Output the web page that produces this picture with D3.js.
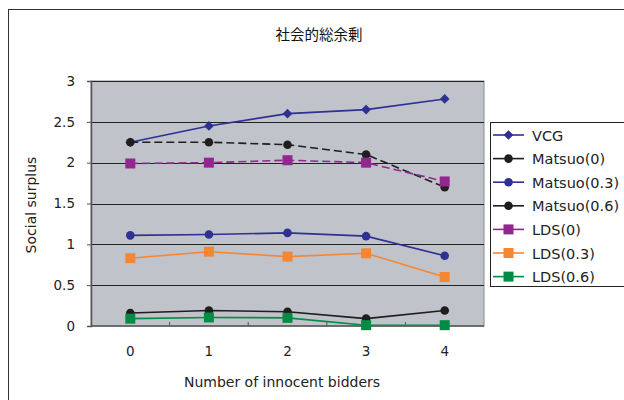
<!DOCTYPE html>
<html>
<head>
<meta charset="utf-8">
<script src="https://cdn.jsdelivr.net/npm/d3@7"></script>
<style>
  html, body { margin: 0; padding: 0; background: #fff; }
  svg { display: block; }
</style>
</head>
<body>
<svg id="chart" width="624" height="400"></svg>
<script>
// Categories: number of innocent bidders
const categories = [0, 1, 2, 3, 4];
const yTicks = [0, 0.5, 1, 1.5, 2, 2.5, 3];

// Social surplus per mechanism
const vcg        = [2.25, 2.45, 2.60, 2.65, 2.78];
const matsuo0    = [2.25, 2.25, 2.22, 2.10, 1.70];
const matsuo03   = [1.11, 1.12, 1.14, 1.10, 0.86];
const matsuo06   = [0.16, 0.19, 0.175, 0.09, 0.19];
const lds0       = [1.99, 2.00, 2.03, 2.00, 1.77];
const lds03      = [0.83, 0.91, 0.85, 0.89, 0.60];
const lds06      = [0.09, 0.105, 0.10, 0.01, 0.01];

const seriesNames = ["VCG", "Matsuo(0)", "Matsuo(0.3)", "Matsuo(0.6)", "LDS(0)", "LDS(0.3)", "LDS(0.6)"];
const seriesValues = [vcg, matsuo0, matsuo03, matsuo06, lds0, lds03, lds06];
const seriesStyle = [
  { color: "#2e3192", marker: "diamond", dash: null },
  { color: "#1f1d1e", marker: "circle",  dash: "8,4" },
  { color: "#2e3192", marker: "circle",  dash: null },
  { color: "#1f1d1e", marker: "circle",  dash: null },
  { color: "#92278f", marker: "square",  dash: "8,4" },
  { color: "#f58634", marker: "square",  dash: null },
  { color: "#008c45", marker: "square",  dash: null }
];

const latin = "'DejaVu Sans', Verdana, sans-serif";
const svg = d3.select("#chart");

// outer chart frame
svg.append("rect")
  .attr("x", 8.5).attr("y", 9.5)
  .attr("width", 700).attr("height", 500)
  .attr("fill", "#fff").attr("stroke", "#333").attr("stroke-width", 1);

// title
svg.append("text")
  .attr("x", 319).attr("y", 39.5)
  .attr("text-anchor", "middle")
  .attr("font-family", "'Noto Sans CJK JP', sans-serif")
  .attr("font-size", 14.5)
  .attr("fill", "#111")
  .text("社会的総余剰");

const plot = { left: 91, right: 484, top: 81, bottom: 326 };

const x = d3.scalePoint()
  .domain(categories)
  .range([plot.left, plot.right])
  .padding(0.5);

const y = d3.scaleLinear()
  .domain([0, 3])
  .range([plot.bottom, plot.top]);

// plot background
svg.append("rect")
  .attr("x", plot.left).attr("y", plot.top)
  .attr("width", plot.right - plot.left)
  .attr("height", plot.bottom - plot.top)
  .attr("fill", "#c0c3ca")
  .attr("stroke", "#8a8a8a").attr("stroke-width", 1);

// horizontal gridlines
svg.append("g")
  .selectAll("line")
  .data(yTicks.filter(d => d > 0))
  .join("line")
  .attr("x1", plot.left).attr("x2", plot.right)
  .attr("y1", d => Math.round(y(d)) + 0.5)
  .attr("y2", d => Math.round(y(d)) + 0.5)
  .attr("stroke", "#222").attr("stroke-width", 1);

// y axis
const yAxis = d3.axisLeft(y)
  .tickValues(yTicks)
  .tickSize(4)
  .tickPadding(12)
  .tickFormat(d => String(d));
const gy = svg.append("g")
  .attr("transform", `translate(${plot.left},0)`)
  .call(yAxis);
gy.select(".domain").attr("stroke", "#555").attr("stroke-width", 1.5);
gy.selectAll(".tick line").attr("stroke", "#555");
gy.selectAll("text")
  .attr("font-family", latin).attr("font-size", 13.5).attr("fill", "#222");

// x axis (labels centred on categories, ticks between them)
const step = x.step();
const gx = svg.append("g")
  .attr("transform", `translate(0,${plot.bottom})`);
gx.append("line")
  .attr("x1", plot.left).attr("x2", plot.right)
  .attr("y1", 0).attr("y2", 0)
  .attr("stroke", "#555").attr("stroke-width", 1.5);
gx.selectAll(".sep")
  .data(categories.slice(1))
  .join("line")
  .attr("class", "sep")
  .attr("x1", d => x(d) - step / 2).attr("x2", d => x(d) - step / 2)
  .attr("y1", 0).attr("y2", -4)
  .attr("stroke", "#555");
gx.selectAll("text")
  .data(categories)
  .join("text")
  .attr("x", d => x(d))
  .attr("y", 30)
  .attr("text-anchor", "middle")
  .attr("font-family", latin).attr("font-size", 13.5).attr("fill", "#222")
  .text(d => d);

// axis titles
svg.append("text")
  .attr("x", 282).attr("y", 387)
  .attr("text-anchor", "middle")
  .attr("font-family", latin).attr("font-size", 14).attr("fill", "#222")
  .text("Number of innocent bidders");
svg.append("text")
  .attr("transform", "translate(36,205) rotate(-90)")
  .attr("text-anchor", "middle")
  .attr("font-family", latin).attr("font-size", 14).attr("fill", "#222")
  .text("Social surplus");

function drawMarker(g, type, color, cx, cy) {
  if (type === "diamond") {
    g.append("path")
      .attr("d", d3.symbol().type(d3.symbolDiamond2).size(60)())
      .attr("transform", `translate(${cx},${cy})`)
      .attr("fill", color);
  } else if (type === "circle") {
    g.append("circle").attr("cx", cx).attr("cy", cy).attr("r", 4.3).attr("fill", color);
  } else {
    g.append("rect")
      .attr("x", cx - 5).attr("y", cy - 5)
      .attr("width", 10).attr("height", 10)
      .attr("fill", color);
  }
}

const line = d3.line()
  .x((d, i) => x(categories[i]))
  .y(d => y(d));

// series lines and markers
seriesValues.forEach((vals, si) => {
  const st = seriesStyle[si];
  const g = svg.append("g");
  g.append("path")
    .datum(vals)
    .attr("d", line)
    .attr("fill", "none")
    .attr("stroke", st.color)
    .attr("stroke-width", 1.6)
    .attr("stroke-dasharray", st.dash);
  vals.forEach((v, i) => drawMarker(g, st.marker, st.color, x(categories[i]), y(v)));
});

// legend
const legend = { left: 490, top: 122, bottom: 286 };
svg.append("rect")
  .attr("x", legend.left + 0.5).attr("y", legend.top + 0.5)
  .attr("width", 200).attr("height", legend.bottom - legend.top)
  .attr("fill", "#fff").attr("stroke", "#222").attr("stroke-width", 1);

seriesNames.forEach((name, si) => {
  const st = seriesStyle[si];
  const ly = 135 + si * 23.6;
  const g = svg.append("g");
  g.append("line")
    .attr("x1", 493).attr("x2", 524)
    .attr("y1", ly).attr("y2", ly)
    .attr("stroke", st.color).attr("stroke-width", 1.6);
  drawMarker(g, st.marker, st.color, 508.5, ly);
  g.append("text")
    .attr("x", 532).attr("y", ly + 5.5)
    .attr("font-family", latin).attr("font-size", 14.5).attr("fill", "#222")
    .text(name);
});
</script>
</body>
</html>
